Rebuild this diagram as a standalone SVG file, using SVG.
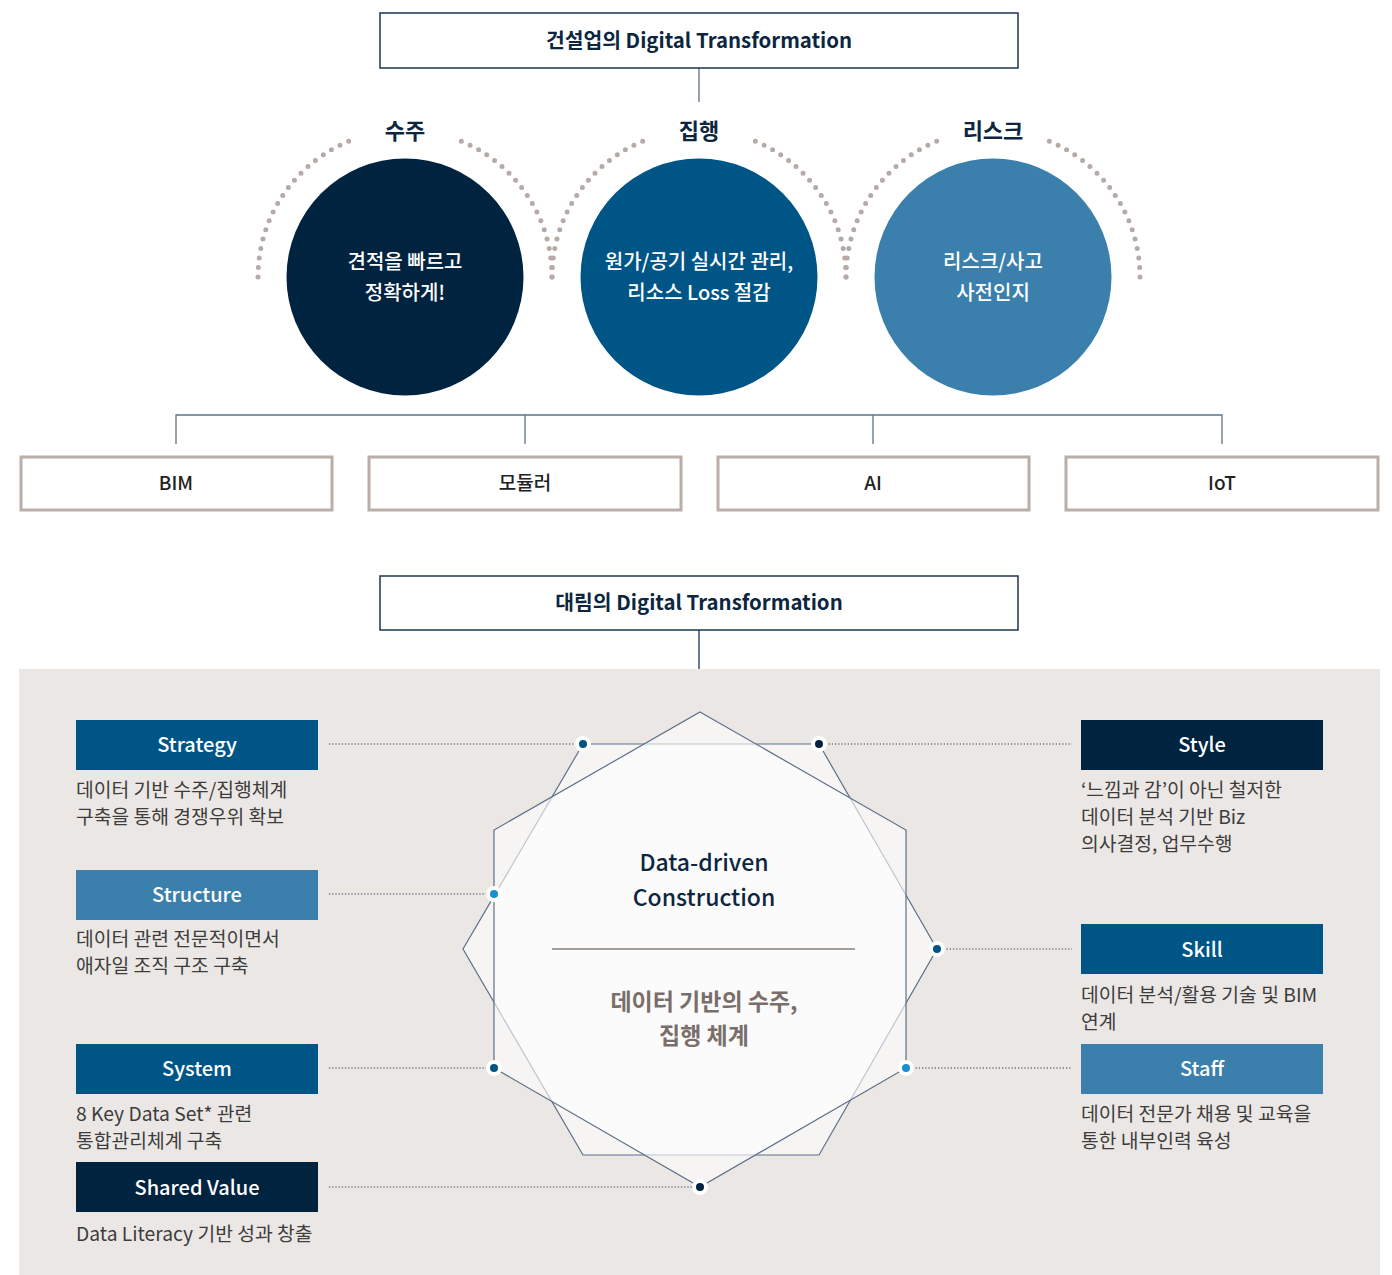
<svg xmlns="http://www.w3.org/2000/svg" width="1392" height="1275" viewBox="0 0 1392 1275">
<style>
text{font-family:"Noto Sans CJK KR","Noto Sans",sans-serif}
.ttl{font-size:20.4px;font-weight:700;fill:#0d2640;text-anchor:middle}
.cat{font-size:22px;font-weight:700;fill:#0d2640;text-anchor:middle}
.cir{font-size:20px;font-weight:500;fill:#ffffff;text-anchor:middle}
.arc{fill:none;stroke:#b5aaa5;stroke-width:5;stroke-linecap:round;stroke-dasharray:0 9.6}
.tech rect{fill:#fff;stroke:#b9aea8;stroke-width:3}
.tech text{font-size:19px;font-weight:500;fill:#222;text-anchor:middle}
.conn{fill:none;stroke:#5f7386;stroke-width:1.3}
.dot{fill:none;stroke:#233c58;stroke-width:1.2;stroke-dasharray:1.2 2}
.lbl{font-size:20px;font-weight:500;fill:#fff;text-anchor:middle}
.desc{font-size:19.3px;fill:#3d3d3d}
.hex{fill:rgba(255,255,255,0.6);stroke:#5d7088;stroke-width:1.2}
.ctr{font-size:23px;font-weight:500;fill:#0d2640;text-anchor:middle}
</style>

<g id="connectors">
<line class="conn" x1="699" y1="68" x2="699" y2="102" stroke="#1b3450"/>
<polyline class="conn" points="176,444 176,415 1222,415 1222,444"/>
<line class="conn" x1="525" y1="415" x2="525" y2="444"/>
<line class="conn" x1="873" y1="415" x2="873" y2="444"/>
<line x1="699" y1="630" x2="699" y2="669" stroke="#1b3450" stroke-width="1.3"/>
</g>

<g id="title1">
<rect x="380" y="13" width="638" height="55" fill="#fff" stroke="#1b3450" stroke-width="1.5"/>
<text class="ttl" x="699" y="48">건설업의 Digital Transformation</text>
</g>

<g id="arcs">
<path class="arc" d="M258,277 A147,147 0 0 1 354.7,138.9"/>
<path class="arc" d="M552,277 A147,147 0 0 0 455.3,138.9"/>
<path class="arc" d="M552,277 A147,147 0 0 1 648.7,138.9"/>
<path class="arc" d="M846,277 A147,147 0 0 0 749.3,138.9"/>
<path class="arc" d="M846,277 A147,147 0 0 1 942.7,138.9"/>
<path class="arc" d="M1140,277 A147,147 0 0 0 1043.3,138.9"/>
</g>

<g id="node-suju">
<text class="cat" x="405" y="139">수주</text>
<circle cx="405" cy="277" r="118.5" fill="#00233f"/>
<text class="cir" x="405" y="269">견적을 빠르고</text>
<text class="cir" x="405" y="300">정확하게!</text>
</g>
<g id="node-jiphaeng">
<text class="cat" x="699" y="139">집행</text>
<circle cx="699" cy="277" r="118.5" fill="#005587"/>
<text class="cir" x="699" y="269">원가/공기 실시간 관리,</text>
<text class="cir" x="699" y="300">리소스 Loss 절감</text>
</g>
<g id="node-risk">
<text class="cat" x="993" y="139">리스크</text>
<circle cx="993" cy="277" r="118.5" fill="#3b80ad"/>
<text class="cir" x="993" y="269">리스크/사고</text>
<text class="cir" x="993" y="300">사전인지</text>
</g>

<g id="node-bim" class="tech"><rect x="21" y="457" width="311" height="53"/><text x="176" y="490">BIM</text></g>
<g id="node-modular" class="tech"><rect x="369" y="457" width="312" height="53"/><text x="525" y="490">모듈러</text></g>
<g id="node-ai" class="tech"><rect x="718" y="457" width="311" height="53"/><text x="873" y="490">AI</text></g>
<g id="node-iot" class="tech"><rect x="1066" y="457" width="312" height="53"/><text x="1222" y="490">IoT</text></g>

<g id="title2">
<rect x="380" y="576" width="638" height="54" fill="#fff" stroke="#1b3450" stroke-width="1.5"/>
<text class="ttl" x="699" y="610">대림의 Digital Transformation</text>
</g>

<rect id="panel" x="19" y="669" width="1361" height="606" fill="#ebe7e4"/>

<g id="center">
<polygon class="hex" points="583,744 819,744 937,949 819,1155 583,1155 463,949"/>
<polygon class="hex" points="700,712 906,830 906,1068 700,1187 494,1068 494,830"/>
<text class="ctr" x="704" y="871">Data-driven</text>
<text class="ctr" x="704" y="906">Construction</text>
<line x1="552" y1="949" x2="855" y2="949" stroke="#8a807c" stroke-width="1.3"/>
<text x="704" y="1010" font-size="23" font-weight="700" fill="#7a6e6a" text-anchor="middle">데이터 기반의 수주,</text>
<text x="704" y="1044" font-size="23" font-weight="700" fill="#7a6e6a" text-anchor="middle">집행 체계</text>
</g>

<g id="dotted-links">
<line class="dot" x1="329" y1="744" x2="583" y2="744"/>
<line class="dot" x1="329" y1="894" x2="494" y2="894"/>
<line class="dot" x1="329" y1="1068" x2="494" y2="1068"/>
<line class="dot" x1="329" y1="1187" x2="700" y2="1187"/>
<line class="dot" x1="819" y1="744" x2="1072" y2="744"/>
<line class="dot" x1="937" y1="949" x2="1072" y2="949"/>
<line class="dot" x1="906" y1="1068" x2="1072" y2="1068"/>
</g>

<g id="markers">
<circle cx="583" cy="744" r="8" fill="#fff"/><circle cx="583" cy="744" r="4" fill="#005587"/>
<circle cx="819" cy="744" r="8" fill="#fff"/><circle cx="819" cy="744" r="4" fill="#00233f"/>
<circle cx="494" cy="894" r="8" fill="#fff"/><circle cx="494" cy="894" r="4" fill="#1a8fd0"/>
<circle cx="937" cy="949" r="8" fill="#fff"/><circle cx="937" cy="949" r="4" fill="#005587"/>
<circle cx="494" cy="1068" r="8" fill="#fff"/><circle cx="494" cy="1068" r="4" fill="#005587"/>
<circle cx="906" cy="1068" r="8" fill="#fff"/><circle cx="906" cy="1068" r="4" fill="#1a8fd0"/>
<circle cx="700" cy="1187" r="8" fill="#fff"/><circle cx="700" cy="1187" r="4" fill="#00233f"/>
</g>

<g id="node-strategy">
<rect x="76" y="720" width="242" height="50" fill="#005587"/>
<text class="lbl" x="197" y="752">Strategy</text>
<text class="desc" x="76" y="797">데이터 기반 수주/집행체계</text>
<text class="desc" x="76" y="824">구축을 통해 경쟁우위 확보</text>
</g>
<g id="node-structure">
<rect x="76" y="870" width="242" height="50" fill="#3b80ad"/>
<text class="lbl" x="197" y="902">Structure</text>
<text class="desc" x="76" y="946">데이터 관련 전문적이면서</text>
<text class="desc" x="76" y="973">애자일 조직 구조 구축</text>
</g>
<g id="node-system">
<rect x="76" y="1044" width="242" height="50" fill="#005587"/>
<text class="lbl" x="197" y="1076">System</text>
<text class="desc" x="76" y="1121">8 Key Data Set* 관련</text>
<text class="desc" x="76" y="1148">통합관리체계 구축</text>
</g>
<g id="node-shared-value">
<rect x="76" y="1162" width="242" height="50" fill="#00233f"/>
<text class="lbl" x="197" y="1195">Shared Value</text>
<text class="desc" x="76" y="1241">Data Literacy 기반 성과 창출</text>
</g>
<g id="node-style">
<rect x="1081" y="720" width="242" height="50" fill="#00233f"/>
<text class="lbl" x="1202" y="752">Style</text>
<text class="desc" x="1081" y="797">‘느낌과 감’이 아닌 철저한</text>
<text class="desc" x="1081" y="824">데이터 분석 기반 Biz</text>
<text class="desc" x="1081" y="851">의사결정, 업무수행</text>
</g>
<g id="node-skill">
<rect x="1081" y="924" width="242" height="50" fill="#005587"/>
<text class="lbl" x="1202" y="957">Skill</text>
<text class="desc" x="1081" y="1002">데이터 분석/활용 기술 및 BIM</text>
<text class="desc" x="1081" y="1029">연계</text>
</g>
<g id="node-staff">
<rect x="1081" y="1044" width="242" height="50" fill="#3b80ad"/>
<text class="lbl" x="1202" y="1076">Staff</text>
<text class="desc" x="1081" y="1121">데이터 전문가 채용 및 교육을</text>
<text class="desc" x="1081" y="1148">통한 내부인력 육성</text>
</g>
</svg>
